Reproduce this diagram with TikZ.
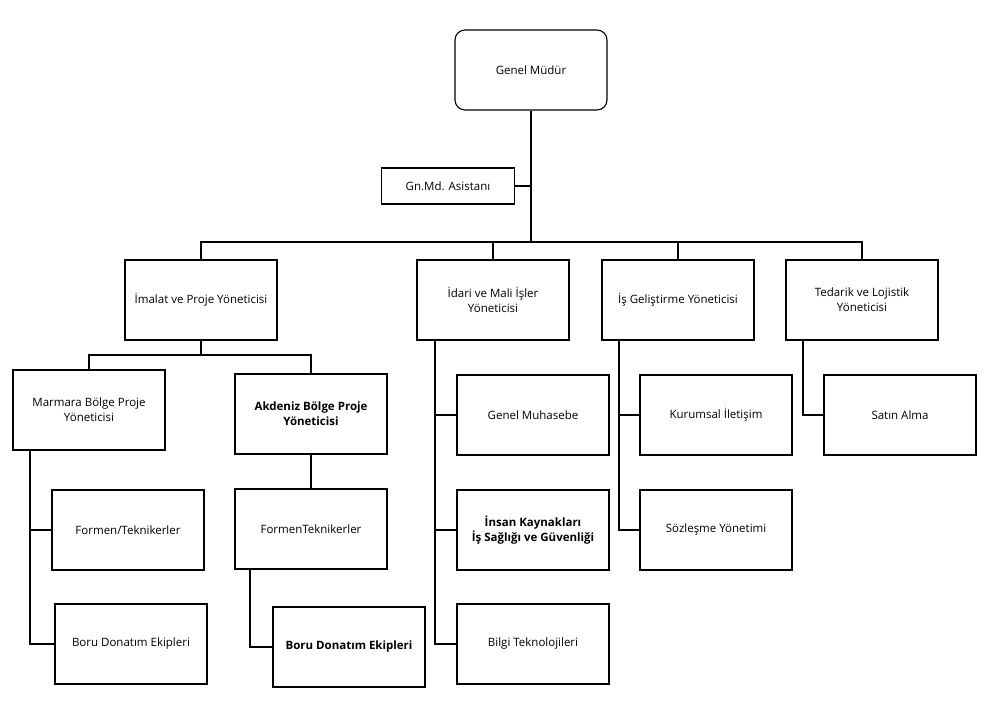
\documentclass[tikz,border=0pt]{standalone}
\usepackage{fontspec}
\setmainfont{Open Sans}
\begin{document}
\begin{tikzpicture}[x=1pt,y=-1pt,
  box/.style={draw,line width=1.1pt,minimum width=152pt,minimum height=80pt,align=center,font=\fontsize{11.5}{15}\selectfont,inner sep=2pt},
  bb/.style={font=\fontsize{11.5}{15}\selectfont\bfseries},
  ln/.style={line width=1.1pt}]
\useasboundingbox (0,0) rectangle (1000,726);
\node[box,rounded corners=10pt] (gm) at (531,70) {Genel Müdür};
\node[box,minimum width=133pt,minimum height=36pt] (as) at (448,186) {Gn.Md. Asistanı};
\node[box] (im) at (201,300) {İmalat ve Proje Yöneticisi};
\node[box] (id) at (493,300) {İdari ve Mali İşler\\Yöneticisi};
\node[box] (ig) at (678,300) {İş Geliştirme Yöneticisi};
\node[box] (te) at (862,300) {Tedarik ve Lojistik\\Yöneticisi};
\node[box] (ma) at (89,410) {Marmara Bölge Proje\\Yöneticisi};
\node[box,bb] (ak) at (311,414) {Akdeniz Bölge Proje\\Yöneticisi};
\node[box] (f1) at (128,530) {Formen/Teknikerler};
\node[box] (b1) at (131,644) {Boru Donatım Ekipleri};
\node[box] (f2) at (311,529) {FormenTeknikerler};
\node[box,bb] (b2) at (349,647) {Boru Donatım Ekipleri};
\node[box] (gmu) at (533,415) {Genel Muhasebe};
\node[box,bb] (ik) at (533,530) {İnsan Kaynakları\\İş Sağlığı ve Güvenliği};
\node[box] (bt) at (533,644) {Bilgi Teknolojileri};
\node[box] (ki) at (716,415) {Kurumsal İletişim};
\node[box] (so) at (716,530) {Sözleşme Yönetimi};
\node[box] (sa) at (900,415) {Satın Alma};
\coordinate (j) at (531,242);
\draw[ln] (gm.south) -- (j);
\draw[ln] (as.east) -- (as.east -| j);
\draw[ln] (im.north) |- (j) -| (te.north);
\draw[ln] (id.north) -- (id.north |- j);
\draw[ln] (ig.north) -- (ig.north |- j);
\coordinate (k) at (201,355);
\draw[ln] (im.south) -- (k);
\draw[ln] (ma.north) |- (k) -| (ak.north);
\draw[ln] (ak.south) -- (f2.north);
\draw[ln] (30,450) |- (b1.west);
\draw[ln] (30,530) -- (f1.west);
\draw[ln] (250,569) |- (b2.west);
\draw[ln] (435,340) |- (bt.west);
\draw[ln] (435,415) -- (gmu.west);
\draw[ln] (435,530) -- (ik.west);
\draw[ln] (619,340) |- (so.west);
\draw[ln] (619,415) -- (ki.west);
\draw[ln] (803,340) |- (sa.west);
\end{tikzpicture}
\end{document}
